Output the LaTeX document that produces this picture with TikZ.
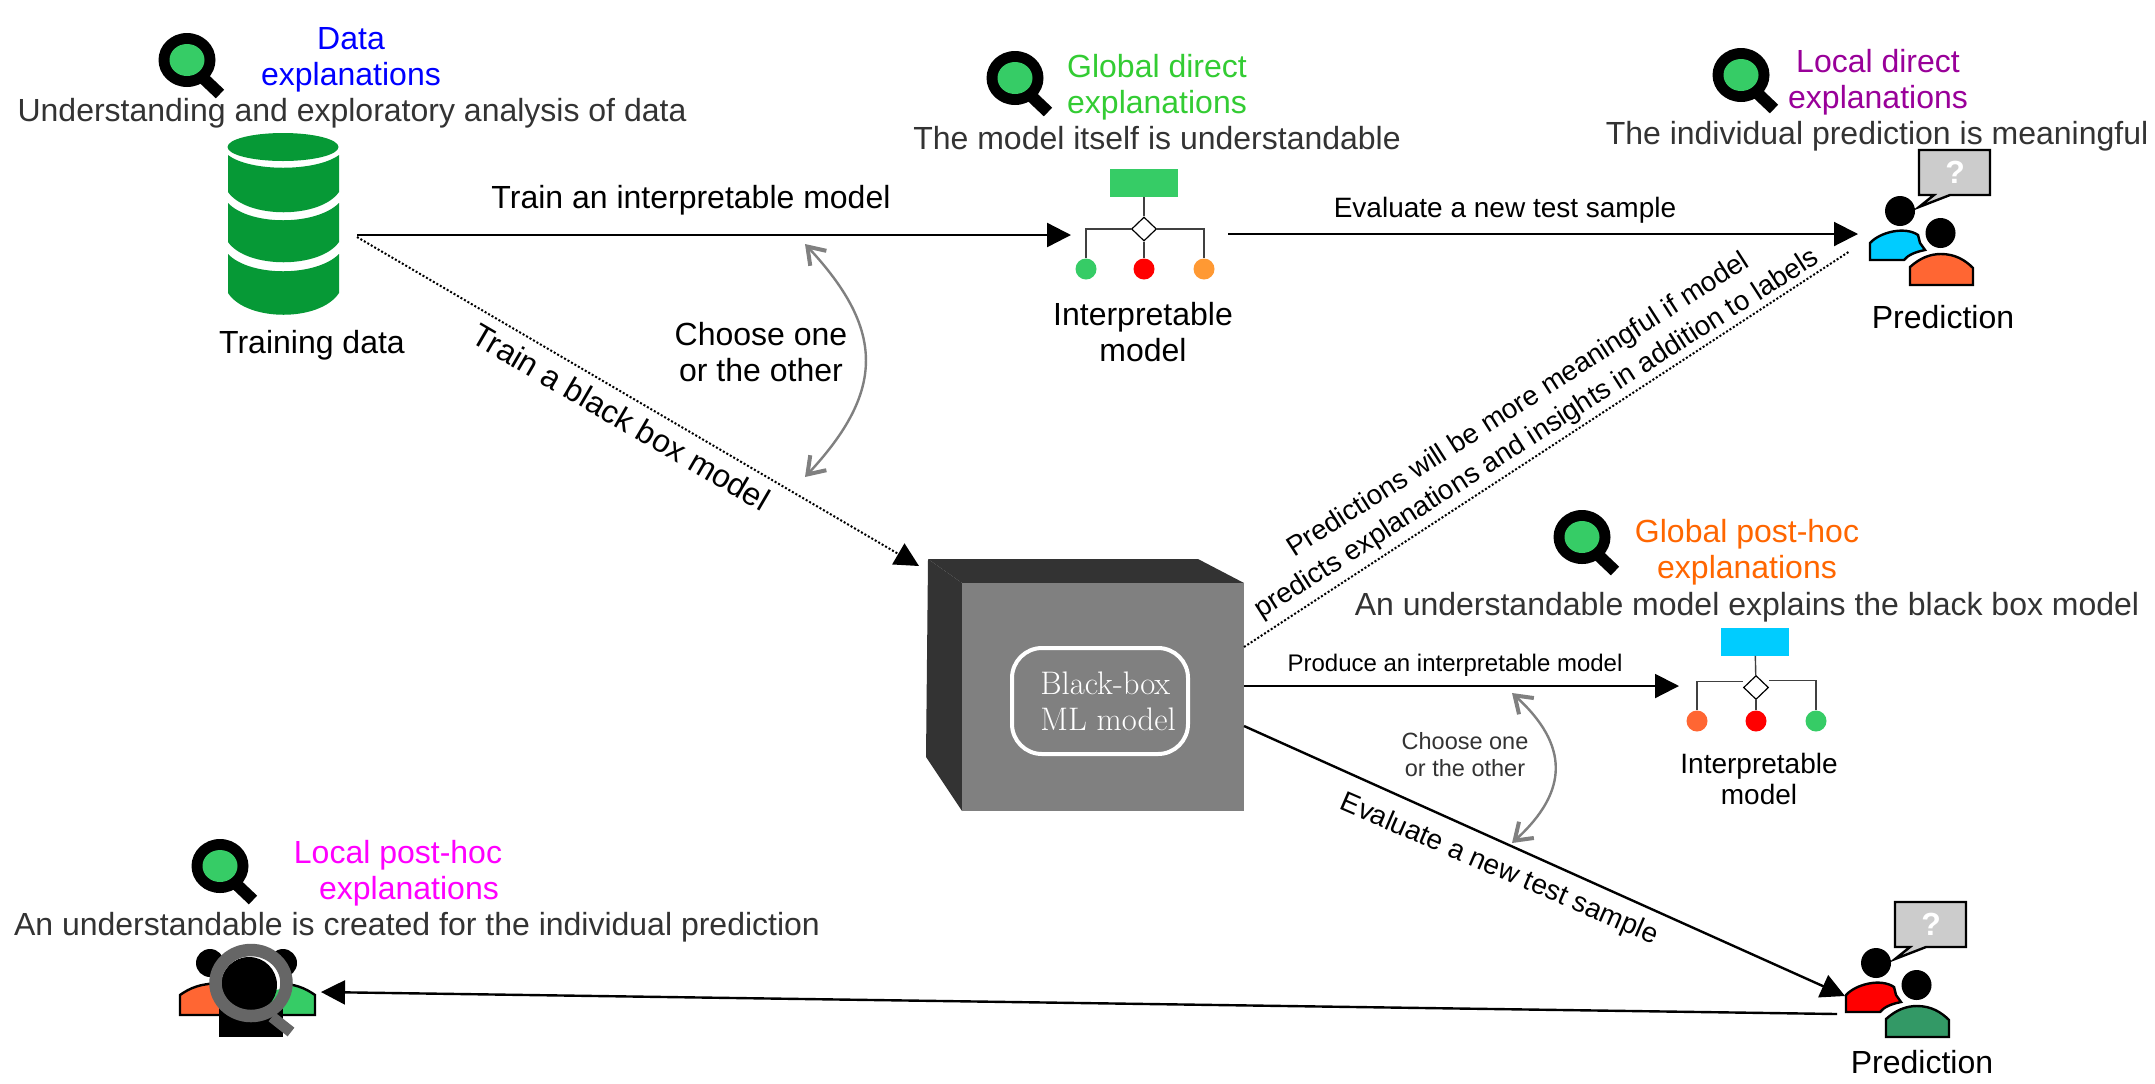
\documentclass[tikz,border=0pt]{standalone}
\usepackage{fontspec}
\usepackage{tikz}
\usetikzlibrary{arrows.meta,shapes.geometric}
\newfontfamily\arialfont{Liberation Sans}
\definecolor{lensgreen}{HTML}{36CC66}
\definecolor{dbgreen}{HTML}{069936}
\definecolor{darktext}{HTML}{333333}
\definecolor{skyblue}{HTML}{00CCFF}
\definecolor{redorange}{HTML}{FF6633}
\definecolor{seagreen}{HTML}{339966}
\definecolor{leaforange}{HTML}{FF9933}
\definecolor{bubblegray}{HTML}{CCCCCC}
\definecolor{directgreen}{HTML}{33CC33}
\definecolor{directpurple}{HTML}{990099}
\definecolor{postorange}{HTML}{FF6600}
\definecolor{postpink}{HTML}{FF00FF}
\tikzset{
  lbl/.style={inner sep=0pt,anchor=base,align=center,font=\arialfont\fontsize{16}{18}\selectfont},
  midlbl/.style={lbl,font=\arialfont\fontsize{14}{17}\selectfont},
  desc/.style={lbl,text=darktext},
  flow/.style={-{Triangle[length=12pt,width=12pt]},line width=1.2pt},
  dotflow/.style={line width=1pt,dash pattern=on 1pt off 1pt},
  choose/.style={{Straight Barb[length=8pt,width=11pt,line width=2pt]}-{Straight Barb[length=8pt,width=11pt,line width=2pt]},draw=gray,line width=1.2pt},
  treeroot/.style={inner sep=0pt,minimum width=34pt,minimum height=14pt},
  treesplit/.style={diamond,draw,fill=white,inner sep=0pt,minimum width=12.5pt,minimum height=12pt,line width=.6pt},
  treeleaf/.style={circle,inner sep=0pt,minimum size=10.5pt},
  treeline/.style={draw=black!75,line width=.7pt}
}
% magnifying glass
\newcommand{\lens}[2]{
  \fill[black] (#1,#2) ellipse [x radius=28.5,y radius=27];
  \fill[lensgreen] (#1,#2) ellipse [x radius=17.5,y radius=16];
  \draw[line width=6pt] (#1+14,#2+16) -- (#1+33,#2+34);
}
% two people and a speech bubble
\newcommand{\askgroup}[4]{
  \begin{scope}[shift={(#1,#2)},line width=1.2pt]
    \filldraw[fill=bubblegray] (1919,150) -- (1990,150) -- (1990,195) -- (1950,195) -- (1919,207) -- (1934,195) -- (1919,195) -- cycle;
    \fill (1900,211) circle [radius=15];
    \filldraw[fill=#3] (1870,260) -- (1870,243) .. controls (1880,232) and (1905,226) .. (1918,235) -- (1920,243) -- (1925,250) .. controls (1915,252) and (1908,255) .. (1904,260) -- cycle;
    \fill (1940.5,233) circle [radius=15];
    \filldraw[fill=#4] (1910,285) -- (1910,267) .. controls (1920,258) and (1930,254) .. (1941,254) .. controls (1955,254) and (1965,260) .. (1973,268) -- (1973,285) -- cycle;
  \end{scope}
}
\begin{document}
\begin{tikzpicture}[x=0.5pt,y=-0.5pt]
  \useasboundingbox (0,0) rectangle (2155,1083);
  \fill[white] (0,0) rectangle (2155,1083);

  % training data
  \lens{187}{60}
  \node[lbl,text=blue] (DataTitle) at (351,85) {Data\\explanations};
  \node[desc] (DataDesc) at (352,121) {Understanding and exploratory analysis of data};
  \fill[dbgreen] (283,147) ellipse [x radius=55.5,y radius=14];
  \fill[dbgreen] (228,155) .. controls (250,172) and (316,172) .. (339,155) -- (339,192) .. controls (320,219) and (247,219) .. (228,192) -- cycle;
  \fill[dbgreen] (228,203) .. controls (250,226) and (316,226) .. (339,203) -- (339,242) .. controls (320,269) and (247,269) .. (228,242) -- cycle;
  \fill[dbgreen] (228,254) .. controls (250,277) and (316,277) .. (339,254) -- (339,293) .. controls (320,322) and (247,322) .. (228,293) -- cycle;
  \node[lbl] (TrainingData) at (312,353.5) {Training data};
  \coordinate (DataOut) at (357,235);
  \coordinate (DataDot) at (357,237);

  % interpretable model, top
  \lens{1015}{78}
  \node[lbl,text=directgreen] (GlobalDirect) at (1157,113.5) {Global direct\\explanations};
  \node[desc] (GlobalDirectDesc) at (1157,149.5) {The model itself is understandable};
  \node[treeroot,fill=lensgreen] (RootA) at (1144,183) {};
  \node[treesplit] (SplitA) at (1144,229) {};
  \node[treeleaf,fill=lensgreen] (LeafA1) at (1086,269) {};
  \node[treeleaf,fill=red] (LeafA2) at (1144,269) {};
  \node[treeleaf,fill=leaforange] (LeafA3) at (1204,269) {};
  \draw[treeline] (RootA) -- (SplitA);
  \draw[treeline] (SplitA.west) -| (LeafA1.north);
  \draw[treeline] (SplitA) -- (LeafA2);
  \draw[treeline] (SplitA.east) -| (LeafA3.north);
  \node[lbl] (ModelA) at (1143,361) {Interpretable\\model};
  \coordinate (ModelAIn) at (1071,235);
  \coordinate (ModelAOut) at (1228,234);

  % prediction, top
  \lens{1741}{75}
  \node[lbl,text=directpurple] (LocalDirect) at (1878,108.5) {Local direct\\explanations};
  \node[desc] (LocalDirectDesc) at (1877,144.5) {The individual prediction is meaningful};
  \askgroup{0}{0}{skyblue}{redorange}
  \node[inner sep=0pt,text=white,font=\arialfont\bfseries\fontsize{16}{18}\selectfont] (AskA) at (1955,172) {?};
  \node[lbl] (PredictionA) at (1943,328) {Prediction};
  \coordinate (PredAIn) at (1858,234);
  \coordinate (PredADot) at (1850,251);

  % black box
  \fill[black!80] (928,559) -- (1198,559) -- (1244,583) -- (962,583) -- cycle;
  \fill[black!80] (928,559) -- (926,757) -- (962,811) -- (962,583) -- cycle;
  \node[fill=gray,inner sep=0pt,minimum width=141pt,minimum height=114pt] (BlackBox) at (1103,697) {};
  \node[draw=white,line width=2pt,rounded corners=15pt,minimum width=88pt,minimum height=53pt,inner sep=0pt,text=white,align=left,font=\fontsize{16.3}{18}\selectfont] (BoxLabel) at (1100,701) {\hspace*{8pt}Black-box\\\hspace*{8pt}ML model};
  \coordinate (BoxDot) at (1244,647);
  \coordinate (BoxIn) at (919,566);
  \coordinate (BoxOutA) at (1244,686);
  \coordinate (BoxOutB) at (1244,726);

  % interpretable model, bottom
  \lens{1582}{537}
  \node[lbl,text=postorange] (GlobalPost) at (1747,578.5) {Global post-hoc\\explanations};
  \node[desc] (GlobalPostDesc) at (1747,615.5) {An understandable model explains the black box model};
  \node[treeroot,fill=skyblue] (RootB) at (1755,641.5) {};
  \node[treesplit] (SplitB) at (1756,687.5) {};
  \node[treeleaf,fill=redorange] (LeafB1) at (1697,721) {};
  \node[treeleaf,fill=red] (LeafB2) at (1756,721) {};
  \node[treeleaf,fill=lensgreen] (LeafB3) at (1816,721) {};
  \draw[treeline] (RootB) -- (SplitB);
  \draw[treeline] ([yshift=3pt]SplitB.west) -| (LeafB1.north);
  \draw[treeline] (SplitB) -- (LeafB2);
  \draw[treeline] ([yshift=3.5pt]SplitB.east) -| (LeafB3.north);
  \node[lbl,font=\arialfont\fontsize{14}{15.5}\selectfont] (ModelB) at (1759,804) {Interpretable\\model};
  \coordinate (ModelBIn) at (1679,686);

  % prediction, bottom
  \askgroup{-24}{752}{red}{seagreen}
  \node[inner sep=0pt,text=white,font=\arialfont\bfseries\fontsize{16}{18}\selectfont] (AskB) at (1931,924) {?};
  \node[lbl] (PredictionB) at (1922,1073) {Prediction};
  \coordinate (PredBIn) at (1845,996);
  \coordinate (PredBOut) at (1837,1014);

  % local post-hoc
  \lens{220}{866}
  \node[lbl,text=postpink] (LocalPost) at (398,899.5) {Local post-hoc\\\hspace*{11pt}explanations};
  \node[desc] (LocalPostDesc) at (417,935.5) {An understandable is created for the individual prediction};
  \filldraw[fill=redorange,line width=1.2pt] (180,1015) -- (180,995) .. controls (190,988) and (200,983) .. (225,983) -- (225,1015) -- cycle;
  \filldraw[fill=lensgreen,line width=1.2pt] (315,1015) -- (315,995) .. controls (305,988) and (295,983) .. (270,983) -- (270,1015) -- cycle;
  \fill (210,963) circle [radius=14];
  \fill (283,963) circle [radius=14];
  \fill[white] (251,983) circle [radius=32];
  \fill[lensgreen] (258,1012) -- (280,1008) -- (285,988) -- (276,990) -- cycle;
  \fill (249,985) circle [radius=28];
  \fill (219,1005) rectangle (283,1037);
  \draw[line width=5.5pt,draw=black!60] (272,1017) -- (291,1032);
  \draw[line width=6.25pt,draw=black!60] (251,983) ellipse [x radius=35.5,y radius=33];
  \coordinate (PostIn) at (321,992);

  % connectors
  \draw[flow] (DataOut) -- (ModelAIn);
  \node[lbl] (TrainLabel) at (691,208.5) {Train an interpretable model};
  \draw[flow,line width=1pt] (ModelAOut) -- (PredAIn);
  \node[midlbl] (EvalLabelA) at (1505,217) {Evaluate a new test sample};
  \draw[flow,dotflow] (DataDot) -- (BoxIn);
  \node[lbl,anchor=center,rotate=-30.3] (BlackLabel) at (621,417) {Train a black box model};
  \draw[dotflow] (BoxDot) -- (PredADot);
  \node[midlbl,anchor=center,rotate=32.6,font=\arialfont\fontsize{13.9}{17}\selectfont] (MeaningLabel) at (1528,420) {Predictions will be more meaningful if model\\predicts explanations and insights in addition to labels};
  \draw[flow,line width=1pt] (BoxOutA) -- (ModelBIn);
  \node[lbl,font=\arialfont\fontsize{12}{15}\selectfont] (ProduceLabel) at (1455,671.5) {Produce an interpretable model};
  \draw[flow] (BoxOutB) -- (PredBIn);
  \node[midlbl,anchor=center,rotate=-23.3] (EvalLabelB) at (1499,870) {Evaluate a new test sample};
  \draw[flow] (PredBOut) -- (PostIn);

  % choose one or the other
  \coordinate (ChooseTopA) at (805,244);
  \coordinate (ChooseBotA) at (805,477);
  \draw[choose] (ChooseTopA) .. controls (885,330) and (885,391) .. (ChooseBotA);
  \node[lbl] (ChooseA) at (761,381) {Choose one\\or the other};
  \coordinate (ChooseTopB) at (1512,693);
  \coordinate (ChooseBotB) at (1512,843);
  \draw[choose] (ChooseTopB) .. controls (1569,745) and (1569,791) .. (ChooseBotB);
  \node[lbl,text=darktext,font=\arialfont\fontsize{11.75}{13.5}\selectfont] (ChooseB) at (1465,776) {Choose one\\or the other};
\end{tikzpicture}
\end{document}
